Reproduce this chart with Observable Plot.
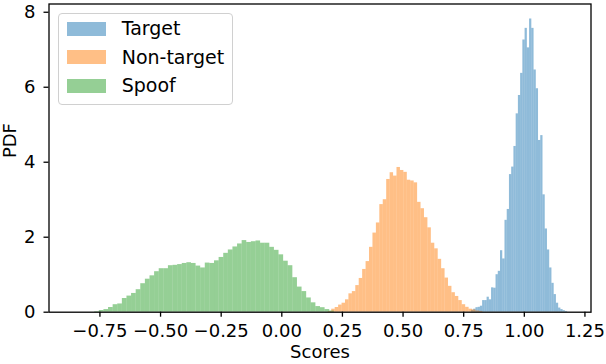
<!DOCTYPE html>
<html>
<head>
<meta charset="utf-8">
<script src="https://cdn.jsdelivr.net/npm/d3@7"></script>
<script src="https://cdn.jsdelivr.net/npm/@observablehq/plot@0.6"></script>
<style>
  html, body { margin: 0; padding: 0; background: white; }
  #wrap { position: relative; width: 606px; height: 364px; font-family: "DejaVu Sans", sans-serif; }
  #legend { position: absolute; left: 58.3px; top: 13.3px; width: 172.4px; height: 89.7px;
            border: 1px solid #d0d0d0; border-radius: 4px; background: rgba(255,255,255,0.8); }
  .entry { position: absolute; left: 7.7px; height: 14px; }
  .patch { position: absolute; left: 0; top: 0; width: 39px; height: 14px; }
  .lab { position: absolute; left: 54.7px; top: -4.5px; font-size: 19px; line-height: 22px; white-space: nowrap; color: #000; }
</style>
</head>
<body>
<div id="wrap"></div>
<script>
// ---- data ----
const seriesNames = ["Target", "Non-target", "Spoof"];
const seriesColors = ["#1f77b4", "#ff7f0e", "#2ca02c"];

// Target histogram: first bin edge, bin width, densities
const targetStart = 0.782;
const targetWidth = 0.00922;
const targetDensity = [0.05, 0.08, 0.12, 0.13, 0.16, 0.31, 0.31, 0.4, 0.33, 0.65,
  0.64, 1.0, 1.09, 1.64, 1.42, 2.45, 2.74, 3.67, 3.87, 4.42,
  5.29, 5.78, 6.37, 7.26, 7.57, 7.05, 7.82, 7.57, 6.46, 5.96,
  4.58, 4.71, 3.13, 2.22, 1.66, 1.18, 0.77, 0.47, 0.24, 0.11,
  0.07, 0.04, 0.02];

// Non-target histogram
const nontargetStart = 0.1918;
const nontargetWidth = 0.01416;
const nontargetDensity = [0.02, 0.08, 0.125, 0.19, 0.24, 0.33, 0.49, 0.55, 0.71, 0.9,
  1.14, 1.35, 1.73, 2.11, 2.38, 2.87, 3.0, 3.54, 3.72, 3.63,
  3.86, 3.78, 3.73, 3.52, 3.5, 3.45, 2.93, 2.76, 2.52, 2.25,
  1.84, 1.69, 1.41, 1.16, 0.91, 0.69, 0.52, 0.42, 0.31, 0.2,
  0.13, 0.08, 0.06, 0.03, 0.02];

// Spoof histogram
const spoofStart = -0.7715;
const spoofWidth = 0.019;
const spoofDensity = [0.015, 0.045, 0.07, 0.125, 0.2, 0.22, 0.365, 0.43, 0.5, 0.6,
  0.76, 0.88, 0.97, 1.08, 1.16, 1.16, 1.24, 1.25, 1.27, 1.3,
  1.32, 1.3, 1.23, 1.18, 1.31, 1.3, 1.37, 1.46, 1.57, 1.66,
  1.74, 1.82, 1.91, 1.86, 1.88, 1.9, 1.84, 1.84, 1.73, 1.65,
  1.53, 1.36, 1.24, 0.92, 0.67, 0.55, 0.38, 0.25, 0.15, 0.12,
  0.07, 0.03];

const xTicks = [-0.75, -0.5, -0.25, 0, 0.25, 0.5, 0.75, 1.0, 1.25];
const yTicks = [0, 2, 4, 6, 8];
const xLabel = "Scores";
const yLabel = "PDF";

// ---- build bin rows ----
function binRows(start, width, dens) {
  return dens.map((v, i) => ({x1: start + i * width, x2: start + (i + 1) * width, v}));
}
const targetRows = binRows(targetStart, targetWidth, targetDensity);
const nontargetRows = binRows(nontargetStart, nontargetWidth, nontargetDensity);
const spoofRows = binRows(spoofStart, spoofWidth, spoofDensity);

const bars = (rows, color) => Plot.rectY(rows, {x1: "x1", x2: "x2", y1: 0, y2: "v", fill: color, fillOpacity: 0.5});

const chart = Plot.plot({
  width: 606,
  height: 364,
  marginLeft: 48.5,
  marginRight: 15.5,
  marginTop: 3.5,
  marginBottom: 52.3,
  x: {domain: [-0.96, 1.275]},
  y: {domain: [0, 8.22]},
  style: {fontFamily: "DejaVu Sans", fontSize: "18px", color: "black", background: "white", overflow: "visible"},
  marks: [
    bars(targetRows, seriesColors[0]),
    bars(nontargetRows, seriesColors[1]),
    bars(spoofRows, seriesColors[2]),
    Plot.frame({stroke: "black", strokeWidth: 1.3}),
    Plot.axisX({ticks: xTicks, tickFormat: d3.format(".2f"), tickSize: 5, tickPadding: 7.5, strokeWidth: 1.3, label: null, fontSize: 18}),
    Plot.axisY({ticks: yTicks, tickFormat: d3.format("d"), tickSize: 5, tickPadding: 8.5, strokeWidth: 1.3, label: null, fontSize: 18}),
    Plot.text([xLabel], {frameAnchor: "bottom", dy: 45.5, fontSize: 18, fill: "black"}),
    Plot.text([yLabel], {frameAnchor: "left", rotate: -90, dx: -38.5, fontSize: 18, fill: "black"})
  ]
});

const wrap = document.getElementById("wrap");
wrap.appendChild(chart);

// legend overlay (inside the axes, upper left)
const legend = document.createElement("div");
legend.id = "legend";
seriesNames.forEach((name, i) => {
  const e = document.createElement("div");
  e.className = "entry";
  e.style.top = (7.4 + i * 28.6) + "px";
  const p = document.createElement("div");
  p.className = "patch";
  p.style.background = seriesColors[i];
  p.style.opacity = 0.5;
  const t = document.createElement("div");
  t.className = "lab";
  t.textContent = name;
  e.appendChild(p); e.appendChild(t);
  legend.appendChild(e);
});
wrap.appendChild(legend);
</script>
</body>
</html>
